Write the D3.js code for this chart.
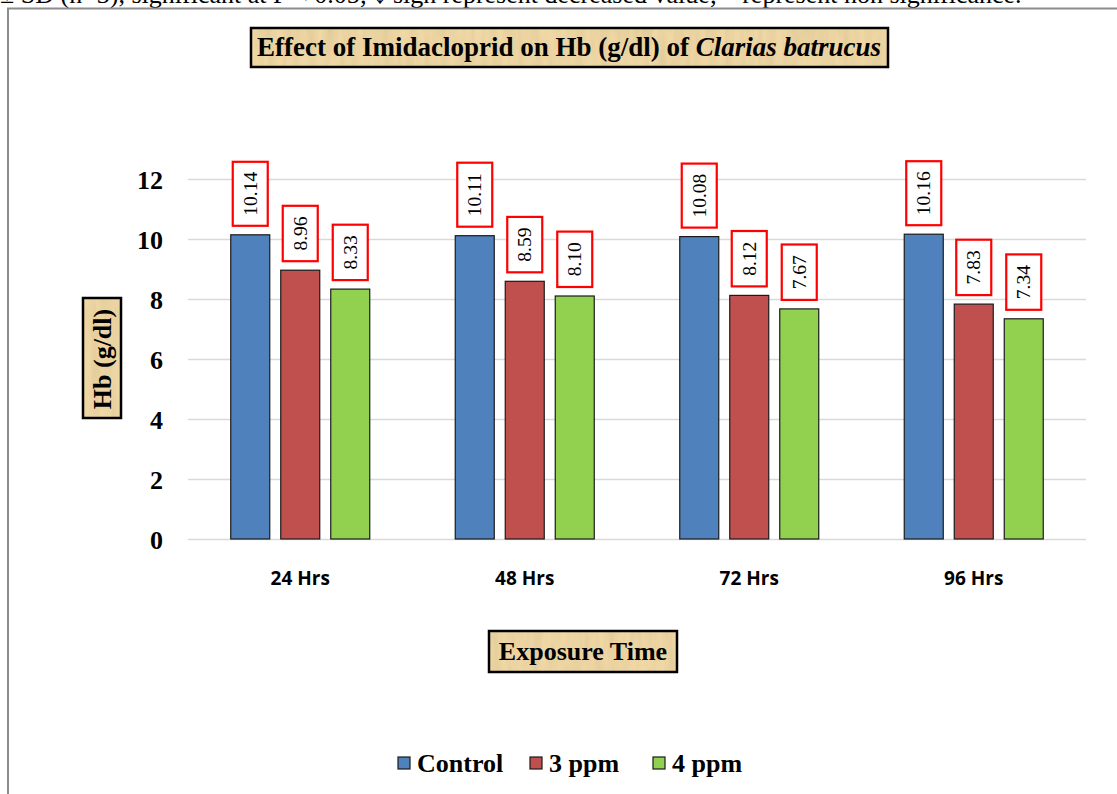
<!DOCTYPE html>
<html>
<head>
<meta charset="utf-8">
<script src="https://cdn.jsdelivr.net/npm/d3@7.9.0/dist/d3.min.js"></script>
<style>
  html, body { margin: 0; padding: 0; background: #fff; }
  svg { display: block; }
</style>
</head>
<body>
<svg id="chart" width="1117" height="794"></svg>
<script>
// data
const categories = ["24 Hrs", "48 Hrs", "72 Hrs", "96 Hrs"];
const seriesNames = ["Control", "3 ppm", "4 ppm"];
const controlValues = [10.14, 10.11, 10.08, 10.16];
const ppm3Values = [8.96, 8.59, 8.12, 7.83];
const ppm4Values = [8.33, 8.10, 7.67, 7.34];
const yTicks = [0, 2, 4, 6, 8, 10, 12];
const seriesColors = ["#4f81bd", "#c0504d", "#92d050"];

const seriesValues = [controlValues, ppm3Values, ppm4Values];
const rows = [];
categories.forEach((c, i) => {
    seriesNames.forEach((s, j) => {
        rows.push({ cat: c, series: s, value: seriesValues[j][i], color: seriesColors[j] });
    });
});

const svg = d3.select("#chart");
const serif = "'Liberation Serif', 'Times New Roman', serif";

// papyrus-like texture for the label boxes
const defs = svg.append("defs");
const filt = defs.append("filter").attr("id", "papyrus")
    .attr("x", 0).attr("y", 0).attr("width", 1).attr("height", 1);
filt.append("feTurbulence")
    .attr("type", "fractalNoise")
    .attr("baseFrequency", "0.12 0.02")
    .attr("numOctaves", 3)
    .attr("seed", 4);
filt.append("feColorMatrix")
    .attr("type", "matrix")
    .attr("values", "0 0 0 0 0.55  0 0 0 0 0.42  0 0 0 0 0.22  0.9 0 0 0 -0.25");
filt.append("feComposite").attr("in2", "SourceGraphic").attr("operator", "in");

function papyrusBox(x, y, w, h) {
    svg.append("rect").attr("x", x).attr("y", y).attr("width", w).attr("height", h)
        .attr("fill", "#f0d8a6");
    svg.append("rect").attr("x", x).attr("y", y).attr("width", w).attr("height", h)
        .attr("fill", "#f0d8a6").attr("filter", "url(#papyrus)").attr("opacity", 0.55);
    svg.append("rect").attr("x", x).attr("y", y).attr("width", w).attr("height", h)
        .attr("fill", "none").attr("stroke", "#000").attr("stroke-width", 2.5);
}

// caption from the page above the chart (cut by the top edge, as in the source)
svg.append("text")
    .attr("x", 0).attr("y", 3)
    .style("font-family", serif).style("font-size", "26px").attr("fill", "#000")
    .text("± SD (n=3), significant at P < 0.05; ↓ sign represent decreased value; ^ represent non significance.");

// outer frame
svg.append("path")
    .attr("d", "M8,800 V8.5 H1120")
    .attr("fill", "none").attr("stroke", "#8c8c8c").attr("stroke-width", 2);

// scales
const x = d3.scaleBand().domain(categories).range([188, 1086]);
const xs = d3.scaleBand().domain(seriesNames).range([-69.5, 69.5]).paddingInner(0.22);
const y = d3.scaleLinear().domain([0, 12]).range([539, 179]);

// gridlines
svg.append("g").selectAll("line").data(yTicks).join("line")
    .attr("x1", 188).attr("x2", 1086)
    .attr("y1", d => y(d) + 0.5).attr("y2", d => y(d) + 0.5)
    .attr("stroke", "#d9d9d9").attr("stroke-width", 1.5);

// y axis labels
const yAxis = svg.append("g").attr("transform", "translate(163,0)")
    .call(d3.axisLeft(y).tickValues(yTicks).tickSize(0).tickPadding(0).tickFormat(d3.format("d")));
yAxis.select(".domain").remove();
yAxis.selectAll("text")
    .style("font-family", serif).style("font-size", "26px").style("font-weight", "bold")
    .attr("fill", "#000").attr("dy", "0.35em");

// x axis labels
const xAxis = svg.append("g").attr("transform", "translate(0,539)")
    .call(d3.axisBottom(x).tickSize(0).tickPadding(0));
xAxis.select(".domain").remove();
xAxis.selectAll("text")
    .attr("y", 46).attr("dy", 0)
    .style("font-family", "'Open Sans', sans-serif").style("font-size", "19px").style("font-weight", "bold")
    .attr("fill", "#000");

// bars
const barX = d => x(d.cat) + x.bandwidth() / 2 + xs(d.series);
svg.append("g").selectAll("rect").data(rows).join("rect")
    .attr("x", barX)
    .attr("y", d => y(d.value))
    .attr("width", xs.bandwidth())
    .attr("height", d => y(0) - y(d.value))
    .attr("fill", d => d.color)
    .attr("stroke", "#1a1a1a").attr("stroke-width", 1.2);

// value labels: rotated, in red boxes
const labels = svg.append("g").selectAll("g").data(rows).join("g")
    .attr("transform", d => `translate(${barX(d) + xs.bandwidth() / 2},${y(d.value) - 9})`);
labels.each(function (d) {
    const g = d3.select(this);
    const txt = d.value.toFixed(2);
    const h = txt.length * 8.6 + 21;
    g.append("rect")
        .attr("x", -17.5).attr("y", -h)
        .attr("width", 35).attr("height", h)
        .attr("fill", "#fff").attr("stroke", "#ff0000").attr("stroke-width", 2.2);
    g.append("text")
        .attr("transform", `translate(6.5,${-h / 2}) rotate(-90)`)
        .attr("text-anchor", "middle")
        .style("font-family", serif).style("font-size", "19.5px")
        .attr("fill", "#000")
        .text(txt);
});

// title
papyrusBox(251, 28, 637, 39);
const title = svg.append("text")
    .attr("x", 569).attr("y", 56).attr("text-anchor", "middle")
    .style("font-family", serif).style("font-size", "27px").style("font-weight", "bold")
    .attr("fill", "#000");
title.append("tspan").text("Effect of Imidacloprid on Hb (g/dl) of ");
title.append("tspan").style("font-style", "italic").text("Clarias batrucus");

// y axis title
papyrusBox(83, 298, 38, 120);
svg.append("text")
    .attr("transform", "translate(111,359) rotate(-90)")
    .attr("text-anchor", "middle")
    .style("font-family", serif).style("font-size", "26px").style("font-weight", "bold")
    .attr("fill", "#000")
    .text("Hb (g/dl)");

// x axis title
papyrusBox(489, 631, 188, 41);
svg.append("text")
    .attr("x", 583).attr("y", 660).attr("text-anchor", "middle")
    .style("font-family", serif).style("font-size", "26px").style("font-weight", "bold")
    .attr("fill", "#000")
    .text("Exposure Time");

// legend
const legendX = [398, 530, 653];
const legend = svg.append("g").selectAll("g").data(seriesNames).join("g")
    .attr("transform", (d, i) => `translate(${legendX[i]},757)`);
legend.append("rect")
    .attr("width", 12).attr("height", 12)
    .attr("fill", (d, i) => seriesColors[i])
    .attr("stroke", "#1a1a1a").attr("stroke-width", 1.2);
legend.append("text")
    .attr("x", 19).attr("y", 15)
    .style("font-family", serif).style("font-size", "26px").style("font-weight", "bold")
    .attr("fill", "#000")
    .text(d => d);
</script>
</body>
</html>
